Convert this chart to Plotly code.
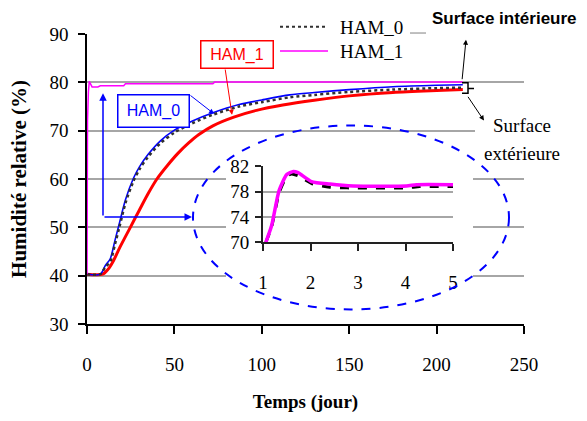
import plotly.graph_objects as go

# ---------------- data ----------------
# Main chart: time (days) vs relative humidity (%)
t_ham0_ext = [0, 7.6, 10.5, 13.3, 16, 18.5, 22, 26.5, 30, 35, 42, 50, 60, 72, 87, 100, 116, 130, 150, 175, 200, 215]
rh_ham0_ext = [40.3, 40.3, 41.8, 42.9, 46.5, 50.0, 55.0, 59.5, 62.0, 64.6, 67.4, 69.6, 71.5, 73.3, 75.0, 75.9, 76.9, 77.4, 78.0, 78.5, 78.8, 78.9]
rh_ham0_ext_blue = [40.3, 40.3, 42.1, 43.5, 47.3, 50.8, 55.7, 60.1, 62.5, 65.1, 67.9, 70.1, 71.95, 73.7, 75.4, 76.35, 77.4, 77.9, 78.5, 79.1, 79.4, 79.5]

t_ham1_ext = [0, 9, 12, 15, 19, 24.8, 30, 35, 40, 46, 52, 58, 64, 72, 84, 97, 112, 130, 150, 175, 200, 215]
rh_ham1_ext = [40.3, 40.3, 41.3, 43.0, 46.0, 50.0, 53.6, 57.0, 60.0, 62.8, 65.3, 67.4, 69.2, 71.0, 72.8, 74.2, 75.3, 76.3, 77.2, 77.9, 78.3, 78.5]

t_ham1_int = [0, 0.3, 0.8, 1.3, 2.9, 6.2, 7.6, 21, 22, 72, 73, 215]
rh_ham1_int = [40.3, 72.0, 78.0, 80.2, 79.05, 79.05, 79.3, 79.3, 79.7, 79.7, 80.05, 80.05]

x_ticks = [0, 50, 100, 150, 200, 250]
y_ticks = [30, 40, 50, 60, 70, 80, 90]

# Inset (zoom on days 1-5)
ins_t_ham1 = [1.06, 1.18, 1.34, 1.5, 1.64, 1.74, 2.02, 2.41, 2.9, 4.02, 4.23, 5.0]
ins_rh_ham1 = [70.0, 72.6, 78.2, 80.7, 81.2, 81.0, 79.6, 79.2, 78.9, 78.9, 79.1, 79.1]
ins_t_ham0 = [1.06, 1.18, 1.34, 1.5, 1.6, 1.74, 2.05, 2.41, 2.77, 4.02, 4.3, 5.0]
ins_rh_ham0 = [70.0, 72.4, 77.8, 80.4, 80.8, 80.5, 79.2, 78.7, 78.6, 78.6, 78.8, 78.8]
ins_x_ticks = [1, 2, 3, 4, 5]
ins_y_ticks = [70, 74, 78, 82]

# ---------------- layout helpers (pixel -> coordinates) ----------------
W, H = 587, 421
PL, PR, PT, PB = 87, 524, 34, 332
XR = (0, 250)
YR = (30, 90)


def dx(px):
    return XR[0] + (px - PL) / (PR - PL) * (XR[1] - XR[0])


def dy(py):
    return YR[1] - (py - PT) / (PB - PT) * (YR[1] - YR[0])


def ppx(px):
    return (px - PL) / (PR - PL)


def ppy(py):
    return (PB - py) / (PB - PT)


SERIF = "Liberation Serif, Times New Roman, serif"
SANS = "Liberation Sans, Arial, sans-serif"

fig = go.Figure()

# main traces
fig.add_trace(go.Scatter(x=t_ham1_ext, y=rh_ham1_ext, mode="lines", name="HAM_1 ext",
                         line=dict(color="#FF0000", width=3, shape="spline", smoothing=0.8), showlegend=False))
fig.add_trace(go.Scatter(x=t_ham0_ext, y=rh_ham0_ext_blue, mode="lines", name="HAM_0 ext",
                         line=dict(color="#0000FF", width=1.6, shape="spline", smoothing=0.8), showlegend=False))
fig.add_trace(go.Scatter(x=t_ham0_ext, y=rh_ham0_ext, mode="lines", name="HAM_0",
                         line=dict(color="#303030", width=2.5, dash="dot", shape="spline", smoothing=0.8),
                         showlegend=False))
fig.add_trace(go.Scatter(x=t_ham1_int, y=rh_ham1_int, mode="lines", name="HAM_1",
                         line=dict(color="#FF00FF", width=1.5), showlegend=False))

# inset traces
fig.add_trace(go.Scatter(x=ins_t_ham0, y=ins_rh_ham0, mode="lines", xaxis="x2", yaxis="y2",
                         line=dict(color="#000000", width=3, dash="dash", shape="spline", smoothing=0.6),
                         showlegend=False))
fig.add_trace(go.Scatter(x=ins_t_ham1, y=ins_rh_ham1, mode="lines", xaxis="x2", yaxis="y2",
                         line=dict(color="#FF00FF", width=3.5, shape="spline", smoothing=0.6),
                         showlegend=False))

shapes = []
# white masks hiding gridlines behind legend / inset / text
for (x0, x1, y0, y1) in [(272, 530, 62, 20), (226, 473, 300, 150), (475, 530, 170, 108)]:
    shapes.append(dict(type="rect", xref="x", yref="y", layer="between",
                       x0=dx(x0), x1=dx(x1), y0=dy(y0), y1=dy(y1),
                       fillcolor="white", line=dict(width=0)))
# dashed ellipse around inset
shapes.append(dict(type="circle", xref="x", yref="y", layer="above",
                   x0=dx(193), x1=dx(509), y0=dy(317), y1=dy(128),
                   line=dict(color="#0000FF", width=2, dash="dash")))
# manual legend samples
shapes.append(dict(type="line", xref="paper", yref="paper", x0=ppx(280), x1=ppx(328),
                   y0=ppy(26.5), y1=ppy(26.5), line=dict(color="#303030", width=2, dash="dot")))
shapes.append(dict(type="line", xref="paper", yref="paper", x0=ppx(280), x1=ppx(328),
                   y0=ppy(51.5), y1=ppy(51.5), line=dict(color="#FF00FF", width=1.5)))
shapes.append(dict(type="line", xref="paper", yref="paper", x0=ppx(410), x1=ppx(426),
                   y0=ppy(33), y1=ppy(33), line=dict(color="#808080", width=1)))
# bracket near line ends
bracket = (f"M {ppx(462)},{ppy(84)} L {ppx(468)},{ppy(84)} L {ppx(468)},{ppy(95)} L {ppx(462)},{ppy(95)} "
           f"M {ppx(468)},{ppy(90)} L {ppx(474)},{ppy(90)}")
shapes.append(dict(type="path", xref="paper", yref="paper", path=bracket,
                   line=dict(color="black", width=1.5)))

annotations = []


def arrow(hx, hy, tx, ty, color, width=1.0, head=2):
    annotations.append(dict(x=dx(hx), y=dy(hy), ax=dx(tx), ay=dy(ty), xref="x", yref="y",
                            axref="x", ayref="y", text="", showarrow=True, arrowhead=head,
                            arrowsize=1, arrowwidth=width, arrowcolor=color))


def label(px, py, text, font, xanchor="center", **kw):
    annotations.append(dict(x=ppx(px), y=ppy(py), xref="paper", yref="paper", text=text,
                            showarrow=False, font=font, xanchor=xanchor, yanchor="middle", **kw))


# callout boxes
label(237, 55, "HAM_1", dict(family=SANS, size=16, color="#FF0000"),
      bordercolor="#FF0000", borderwidth=1.5, borderpad=0, width=71, height=26, bgcolor="white")
label(153, 113, "HAM_0", dict(family=SANS, size=16, color="#0000FF"),
      bordercolor="#0000FF", borderwidth=1.5, borderpad=0, width=70, height=31, bgcolor="white")
arrow(232, 117, 225, 69, "#FF0000", 1)
arrow(214, 116, 189, 96, "#0000FF", 1)
arrow(103, 95, 103, 222, "#0000FF", 1.5)
arrow(192, 222, 103, 222, "#0000FF", 1.5)

# surface labels
label(504, 18, "<b>Surface intérieure</b>", dict(family=SANS, size=17, color="black"))
arrow(466, 40, 462, 82, "black", 1)
label(522, 128, "Surface", dict(family=SERIF, size=19, color="black"))
label(522, 157, "extérieure", dict(family=SERIF, size=19, color="black"))
arrow(484, 123, 467, 97, "black", 1)

# manual legend text
label(338, 27, "HAM_0", dict(family=SERIF, size=19, color="black"), xanchor="left")
label(338, 52, "HAM_1", dict(family=SERIF, size=19, color="black"), xanchor="left")

fig.update_layout(
    width=W, height=H,
    margin=dict(l=PL, r=W - PR, t=PT, b=H - PB, pad=0),
    paper_bgcolor="white", plot_bgcolor="white",
    showlegend=False,
    shapes=shapes, annotations=annotations,
    xaxis=dict(range=list(XR), tickvals=x_ticks, showgrid=False, zeroline=False,
               showline=True, linecolor="black", linewidth=1.5,
               ticks="outside", ticklen=8, tickwidth=1.5, tickcolor="black",
               tickfont=dict(family=SERIF, size=19, color="black"), ticklabelstandoff=14,
               title=dict(text="<b>Temps (jour)</b>", font=dict(family=SERIF, size=19, color="black"),
                          standoff=21)),
    yaxis=dict(range=list(YR), tickvals=y_ticks, showgrid=True, gridcolor="#a6a6a6", gridwidth=1.5,
               zeroline=False, showline=True, linecolor="black", linewidth=1.5,
               ticks="outside", ticklen=7, tickwidth=1.5, tickcolor="black",
               tickfont=dict(family=SERIF, size=19, color="black"), ticklabelstandoff=6,
               title=dict(text="<b>Humidité relative (%)</b>", font=dict(family=SERIF, size=21, color="black"),
                          standoff=17)),
    xaxis2=dict(domain=[ppx(263), ppx(453)], anchor="y2", range=[1, 5], tickvals=ins_x_ticks,
                showgrid=False, zeroline=False, showline=True, linecolor="#222222", linewidth=2,
                ticks="outside", ticklen=7, tickwidth=1.5, tickcolor="#222222",
                tickfont=dict(family=SERIF, size=19, color="black"), ticklabelstandoff=15),
    yaxis2=dict(domain=[ppy(248), ppy(170)], anchor="x2", range=[70, 82], tickvals=ins_y_ticks,
                showgrid=True, gridcolor="#a6a6a6", gridwidth=1.5, zeroline=False,
                showline=True, linecolor="#222222", linewidth=2,
                ticks="outside", ticklen=6, tickwidth=1.5, tickcolor="#222222",
                tickfont=dict(family=SERIF, size=19, color="black"), ticklabelstandoff=2),
)

fig.write_html("out.html", config={"displayModeBar": False},
               post_script="document.body.style.margin='0px';document.body.style.overflow='hidden';")
